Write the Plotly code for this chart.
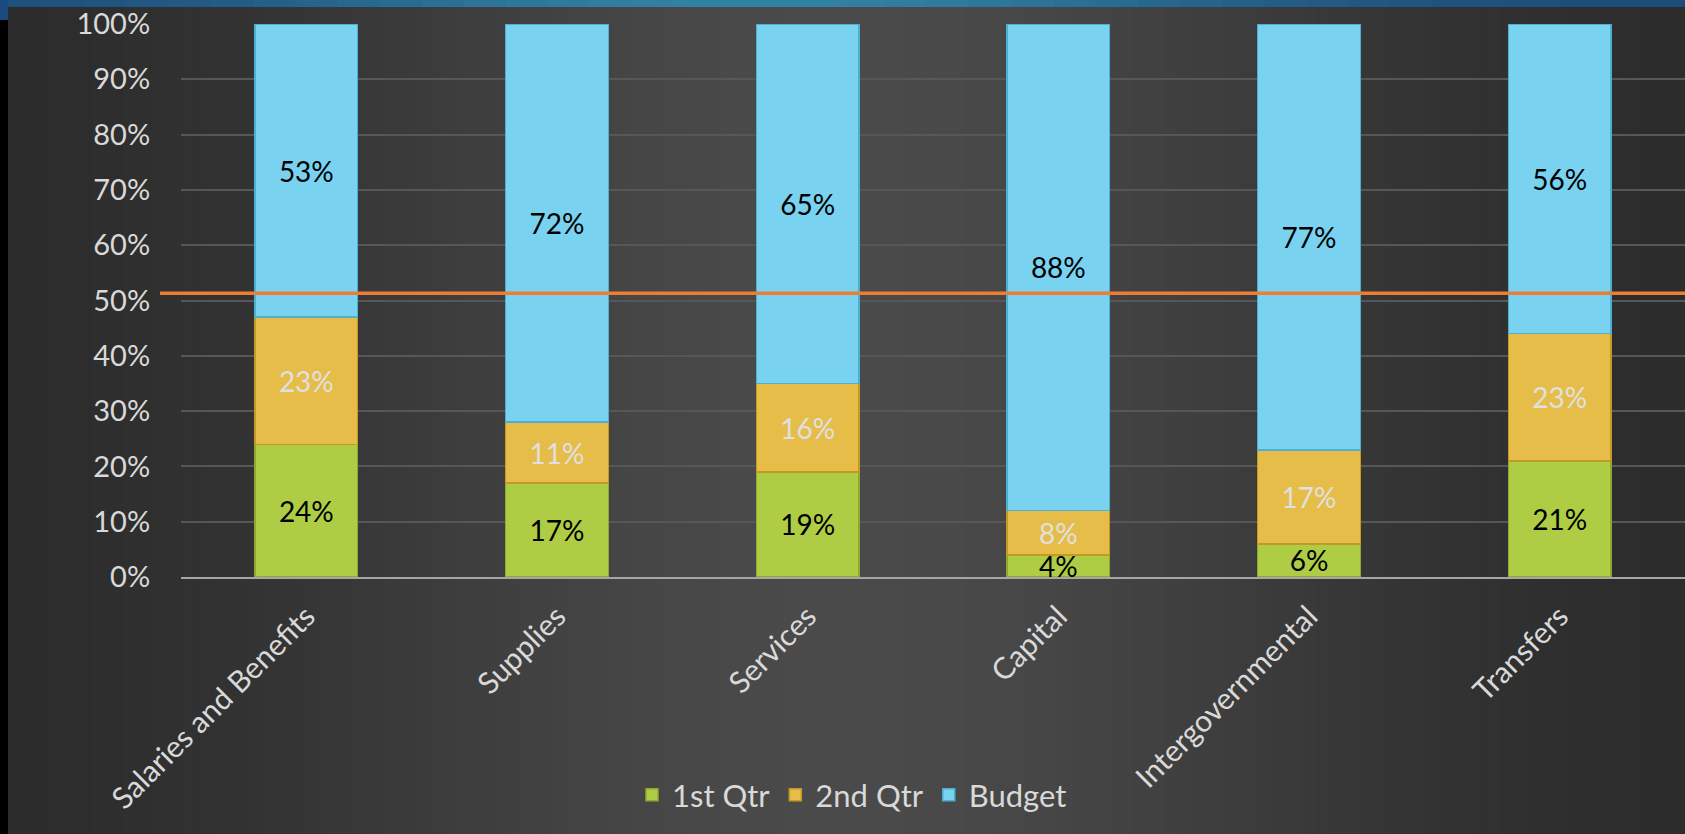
import math
import plotly.graph_objects as go

categories = ["Salaries and Benefits", "Supplies", "Services", "Capital", "Intergovernmental", "Transfers"]
q1 = [24, 17, 19, 4, 6, 21]
q2 = [23, 11, 16, 8, 17, 23]
budget = [53, 72, 65, 88, 77, 56]
target = 51.3
y_ticks = [0, 10, 20, 30, 40, 50, 60, 70, 80, 90, 100]
y_tick_labels = [f"{v}%" for v in y_ticks]

FONT = "Lato, 'Open Sans', sans-serif"
FS = 28
W, H = 1685, 834
L, R, T, B = 181, 0, 24, 257
PW, PH = W - L - R, H - T - B


def px_x(px):
    return (px - L) / PW


def px_y(py):
    return (H - B - py) / PH


fig = go.Figure()
series = [
    ("1st Qtr", q1, "#aecd45", "#8fa92e", "#000000"),
    ("2nd Qtr", q2, "#e6bd48", "#c49a25", "#e0e0e0"),
    ("Budget", budget, "#78d2f0", "#4ab0d4", "#000000"),
]
for name, vals, col, edge, tcol in series:
    fig.add_trace(go.Bar(
        name=name, x=categories, y=vals,
        marker=dict(color=col, line=dict(color=edge, width=1.5)),
        text=[f"{v}%" for v in vals], textposition="inside",
        insidetextanchor="middle", constraintext="none",
        textfont=dict(color=tcol, size=FS, family=FONT),
        textangle=0,
    ))

# background: horizontal gradient (dark edges, lighter centre)
bg_shapes = []
N = 110
for i in range(N):
    x0 = i * W / N
    x1 = (i + 1) * W / N
    f = (x0 + x1) / 2 / W
    v = int(round(40 + 34 * math.exp(-((f - 0.5) / 0.33) ** 2)))
    col = f"rgb({v},{v},{v})"
    bg_shapes.append(dict(type="rect", xref="paper", yref="paper",
                          x0=px_x(x0), x1=px_x(x1 + 1), y0=px_y(H + 5), y1=px_y(-5),
                          fillcolor=col, line_width=0, layer="below"))
# top blue band
M = 40
for i in range(M):
    x0 = i * W / M
    x1 = (i + 1) * W / M
    f = (x0 + x1) / 2 / W
    e = math.exp(-((f - 0.45) / 0.3) ** 2)
    r = int(28 + 22 * e)
    g = int(75 + 55 * e)
    b = int(120 + 45 * e)
    bg_shapes.append(dict(type="rect", xref="paper", yref="paper",
                          x0=px_x(x0), x1=px_x(x1 + 1), y0=px_y(7), y1=px_y(-5),
                          fillcolor=f"rgb({r},{g},{b})", line_width=0, layer="below"))
# left black strip
bg_shapes.append(dict(type="rect", xref="paper", yref="paper",
                      x0=px_x(-5), x1=px_x(8), y0=px_y(H + 5), y1=px_y(20),
                      fillcolor="#000000", line_width=0, layer="below"))
bg_shapes.append(dict(type="rect", xref="paper", yref="paper",
                      x0=px_x(-5), x1=px_x(8), y0=px_y(20), y1=px_y(-5),
                      fillcolor="#1a4a7e", line_width=0, layer="below"))

target_line = dict(type="line", xref="paper", yref="y", x0=px_x(160), x1=1, y0=target, y1=target,
                   line=dict(color="#ed7d31", width=3.5), layer="above")

fig.update_layout(
    barmode="stack",
    bargap=0.59,
    width=W, height=H,
    margin=dict(l=L, r=R, t=T, b=B),
    paper_bgcolor="#3a3a3a",
    plot_bgcolor="rgba(0,0,0,0)",
    font=dict(family=FONT, size=FS, color="#d9d9d9"),
    uniformtext=dict(minsize=FS, mode="show"),
    showlegend=True,
    legend=dict(orientation="h", x=px_x(852), xanchor="center", y=px_y(795), yanchor="middle",
                font=dict(size=31, color="#d9d9d9"), traceorder="normal",
                itemwidth=30, bgcolor="rgba(0,0,0,0)"),
    shapes=bg_shapes + [target_line],
)
fig.update_yaxes(
    range=[0, 100], tickvals=y_ticks, ticktext=y_tick_labels,
    showgrid=True, gridcolor="#575757", gridwidth=1.5, zeroline=False,
    ticks="outside", ticklen=0, ticklabelstandoff=24,
    tickfont=dict(size=29, color="#d9d9d9", family=FONT),
)
fig.update_xaxes(
    tickangle=-45, showline=True, linecolor="#a6a6a6", linewidth=2,
    tickfont=dict(size=30, color="#d9d9d9", family=FONT),
    ticks="outside", ticklen=0, ticklabelstandoff=8,
)
fig.write_html("out.html", config={"displayModeBar": False},
               post_script="document.body.style.margin='0';document.body.style.overflow='hidden';")
